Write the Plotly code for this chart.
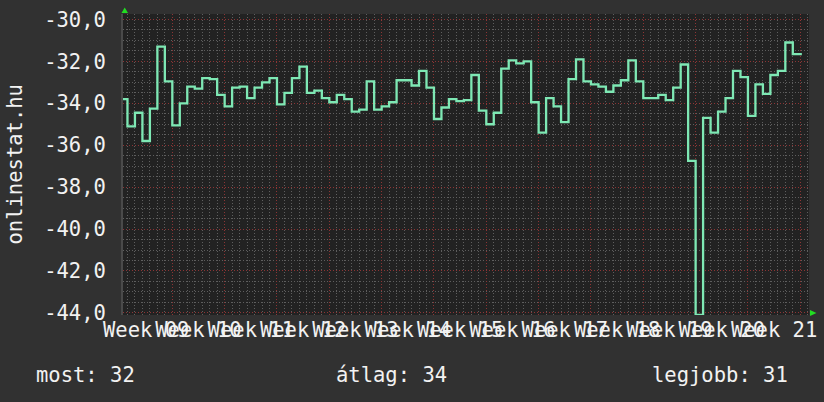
import pandas as pd
import plotly.graph_objects as go

# daily values (2024-02-26 .. 2024-05-26)
start_day = "2024-02-26"
values = [
    -33.8, -35.1, -34.45, -35.8, -34.25, -31.3, -32.95,
    -35.05, -34.0, -33.2, -33.3, -32.8, -32.85, -33.6,
    -34.15, -33.25, -33.2, -33.75, -33.25, -33.0, -32.8,
    -34.05, -33.5, -32.8, -32.25, -33.5, -33.4, -33.75,
    -33.95, -33.6, -33.8, -34.4, -34.3, -32.95, -34.3,
    -34.15, -33.95, -32.9, -32.9, -33.15, -32.45, -33.25,
    -34.75, -34.2, -33.8, -33.9, -33.85, -32.65, -34.35,
    -35.0, -34.45, -32.35, -31.95, -32.1, -32.0, -33.95,
    -35.4, -33.75, -34.15, -34.9, -32.85, -31.9, -32.95,
    -33.1, -33.2, -33.45, -33.15, -32.9, -31.95, -32.95,
    -33.75, -33.75, -33.6, -33.85, -33.25, -32.15, -36.75,
    -44.1, -34.7, -35.4, -34.4, -33.75, -32.45, -32.75,
    -34.6, -33.1, -33.55, -32.65, -32.45, -31.1, -31.65,
]
last_time = "2024-05-27 05:00"   # where the step line stops ("now")

week_labels = ["Week 09", "Week 10", "Week 11", "Week 12", "Week 13", "Week 14", "Week 15",
               "Week 16", "Week 17", "Week 18", "Week 19", "Week 20", "Week 21"]
y_ticks = [-30, -32, -34, -36, -38, -40, -42, -44]
y_tick_labels = ["-30,0", "-32,0", "-34,0", "-36,0", "-38,0", "-40,0", "-42,0", "-44,0"]
y_title = "onlinestat.hu"

x_range = ["2024-02-26 09:40", "2024-05-28 04:00"]
y_range = [-44.1, -29.74]

dates = list(pd.date_range(start_day, periods=len(values), freq="D"))
x = dates + [pd.Timestamp(last_time)]
y = values + [values[-1]]

# label positions: middle of every week
week_starts = pd.date_range(start_day, periods=len(week_labels), freq="7D")
label_pos = week_starts + pd.Timedelta(hours=84)

most = abs(round(values[-1]))
atlag = abs(round(sum(values) / len(values)))
legjobb = abs(round(max(values)))

# plot area in px
L, R, T, B = 123, 809, 14, 315
W, H = R - L, B - T
def px(xp):
    return (xp - L) / W
def py(yp):
    return (B - yp) / H

FONT = "DejaVu Sans Mono"
TXT = "#f2f2f2"
BG = "#313131"
RED = "#8c3535"
GRAY = "#5e5e5e"

fig = go.Figure()
fig.add_trace(go.Scatter(x=x, y=y, mode="lines", line_shape="hv",
                         line=dict(color="#7ee8b4", width=2.3),
                         hoverinfo="skip", showlegend=False))
# invisible trace so the label axis gets drawn
fig.add_trace(go.Scatter(x=x, y=y, xaxis="x2", mode="lines", opacity=0,
                         hoverinfo="skip", showlegend=False))

fig.update_layout(
    width=824, height=402,
    margin=dict(l=L, r=824 - R, t=T, b=402 - B, autoexpand=False),
    paper_bgcolor=BG,
    plot_bgcolor="#222222",
    font=dict(family=FONT, size=20.5, color=TXT),
    xaxis=dict(
        type="date", range=x_range, automargin=False,
        tick0="2024-03-04", dtick=7 * 86400000,
        showticklabels=False, ticks="",
        showgrid=True, gridcolor=RED, griddash="1px,2px", gridwidth=1,
        minor=dict(dtick=86400000, tick0="2024-02-26", showgrid=True,
                   gridcolor=GRAY, griddash="1px,2px", gridwidth=1),
        zeroline=False, showline=False,
    ),
    xaxis2=dict(
        type="date", range=x_range, overlaying="x", anchor="y", side="bottom",
        automargin=False, ticklabeloverflow="allow",
        tickvals=list(label_pos), ticktext=week_labels, tickangle=0,
        ticks="", showgrid=False, zeroline=False, showline=False,
        ticklabelstandoff=0,
        tickfont=dict(family=FONT, size=20.5, color=TXT),
    ),
    yaxis=dict(
        range=y_range, tickvals=y_ticks, ticktext=y_tick_labels,
        automargin=False, ticklabeloverflow="allow",
        ticks="", ticklabelstandoff=11,
        showgrid=True, gridcolor=RED, griddash="1px,2px", gridwidth=1,
        minor=dict(dtick=0.5, tick0=0, showgrid=True, gridcolor=GRAY,
                   griddash="1px,2px", gridwidth=1),
        zeroline=False, showline=True, linecolor="#4a4a4a", linewidth=2,
        tickfont=dict(family=FONT, size=20.5, color=TXT),
    ),
)

fig.add_annotation(text=y_title, xref="paper", yref="paper", x=px(14), y=0.5,
                   textangle=-90, showarrow=False, xanchor="center", yanchor="middle",
                   font=dict(family=FONT, size=20.5, color=TXT))

legend_items = [("most: %d" % most, 34), ("átlag: %d" % atlag, 334), ("legjobb: %d" % legjobb, 650)]
for txt, xp in legend_items:
    fig.add_annotation(text=txt, xref="paper", yref="paper", x=px(xp), y=py(375),
                       showarrow=False, xanchor="left", yanchor="middle",
                       font=dict(family=FONT, size=20.5, color=TXT))

# small green arrows at the axis ends
fig.add_shape(type="path", xref="paper", yref="paper", line_width=0, fillcolor="#22dd22",
              path="M %f,%f L %f,%f L %f,%f Z" % (px(121.5), py(13), px(128), py(13), px(124.7), py(7.5)))
fig.add_shape(type="path", xref="paper", yref="paper", line_width=0, fillcolor="#22dd22",
              path="M %f,%f L %f,%f L %f,%f Z" % (px(810), py(310), px(810), py(316), px(816.5), py(313)))

# drop the page's default body margin so the figure sits in the corner
fig.write_html("out.html", config={"displayModeBar": False},
               post_script="document.body.style.margin='0';document.body.style.background='%s';" % BG)
